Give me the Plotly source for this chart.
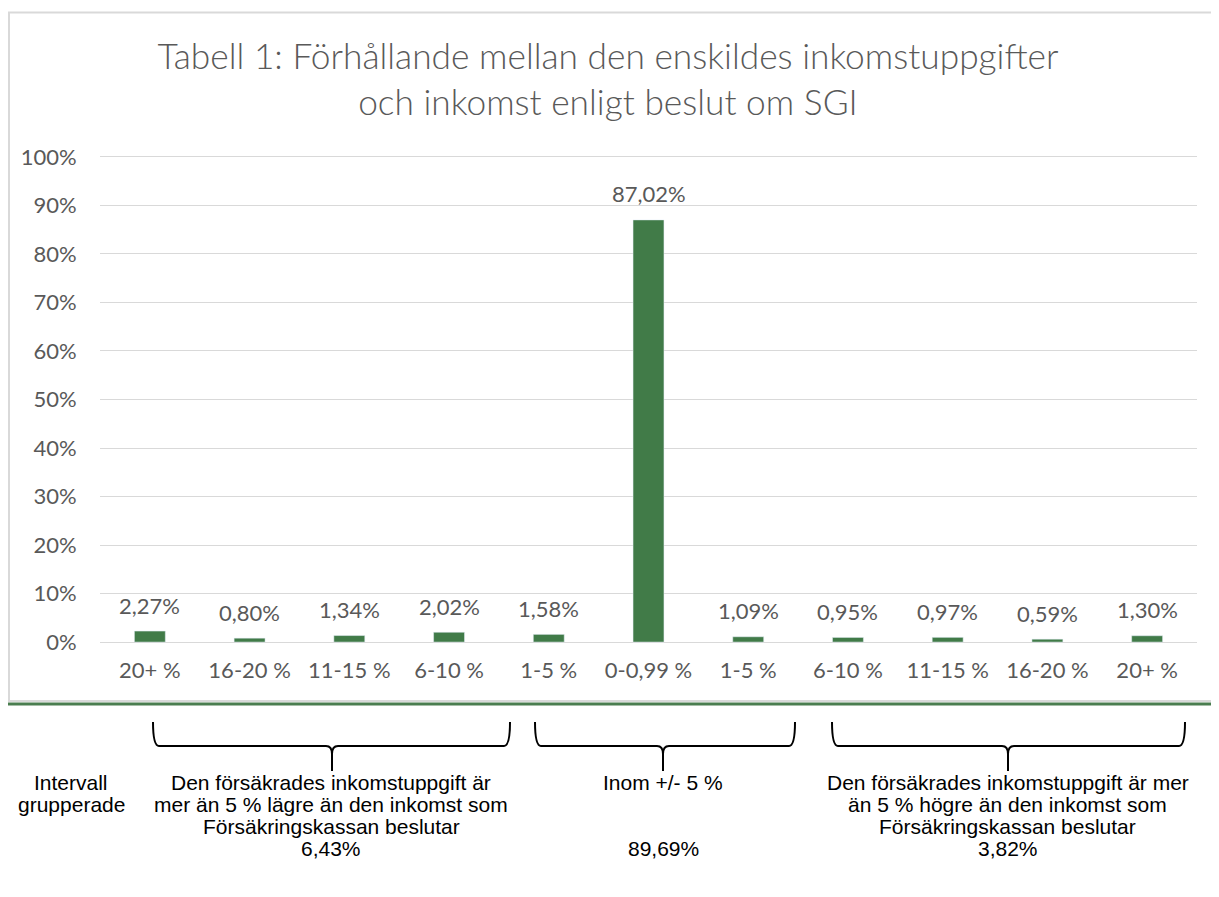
import plotly.graph_objects as go

# Categories (interval labels) and share of cases
categories = ["20+ %", "16-20 %", "11-15 %", "6-10 %", "1-5 %", "0-0,99 %",
              "1-5 %", "6-10 %", "11-15 %", "16-20 %", "20+ %"]
shares = [2.27, 0.80, 1.34, 2.02, 1.58, 87.02, 1.09, 0.95, 0.97, 0.59, 1.30]
share_labels = ["2,27%", "0,80%", "1,34%", "2,02%", "1,58%", "87,02%",
                "1,09%", "0,95%", "0,97%", "0,59%", "1,30%"]

y_ticks = [0, 10, 20, 30, 40, 50, 60, 70, 80, 90, 100]
y_ticktext = [f"{v}%" for v in y_ticks]

# Grouped totals shown under the chart
group_left = ["Den försäkrades inkomstuppgift är", "mer än 5 % lägre än den inkomst som",
              "Försäkringskassan beslutar", "6,43%"]
group_mid = ["Inom +/- 5 %", "", "", "89,69%"]
group_right = ["Den försäkrades inkomstuppgift är mer", "än 5 % högre än den inkomst som",
               "Försäkringskassan beslutar", "3,82%"]
group_name = ["Intervall", "grupperade"]

GREEN = "#417B48"
GREY = "#595959"

# page body adds an 8px margin, so work in screen pixels and shift
OFF = 8
W, H = 1219 - OFF, 897 - OFF
L, R, T, B = 100, 1197, 155, 644   # plot area in screen pixels


def px(x):
    return (x - L) / (R - L)


def py(y):
    return (B - y) / (B - T)


fig = go.Figure()
fig.add_trace(go.Bar(
    x=list(range(len(categories))),
    y=shares,
    width=0.31,
    marker_color=GREEN,
    hoverinfo="x+y",
))

# data labels above the bars
for i, (v, lab) in enumerate(zip(shares, share_labels)):
    fig.add_annotation(x=i, y=v, text=lab, showarrow=False,
                       yanchor="middle", yshift=26,
                       font=dict(family="Lato", size=22, color=GREY))

fig.update_layout(
    width=W, height=H,
    margin=dict(l=L - OFF, r=W - (R - OFF), t=T - OFF, b=H - (B - OFF)),
    paper_bgcolor="white",
    plot_bgcolor="white",
    showlegend=False,
    font=dict(family="Lato", color=GREY),
    title=dict(
        text="Tabell 1: Förhållande mellan den enskildes inkomstuppgifter<br>och inkomst enligt beslut om SGI",
        x=(608 - OFF) / W, xanchor="center",
        y=1 - (81 - OFF - 12) / H, yanchor="middle", yref="container",
        font=dict(family="Lato", size=35.3, color=GREY, weight=300),
    ),
    xaxis=dict(
        tickvals=list(range(len(categories))),
        ticktext=categories,
        range=[-0.5, len(categories) - 0.5],
        showgrid=False, zeroline=False, showline=False,
        tickfont=dict(family="Lato", size=22, color=GREY),
        ticks="outside", ticklen=7, tickcolor="white",
    ),
    yaxis=dict(
        range=[-0.4, 100.4],
        tickvals=y_ticks,
        ticktext=y_ticktext,
        gridcolor="#D9D9D9", gridwidth=1,
        zeroline=False, showline=False,
        tickfont=dict(family="Lato", size=22, color=GREY),
        ticks="outside", ticklen=18, tickcolor="white",
    ),
)

# chart frame and green rule under it
fig.add_shape(type="rect", xref="paper", yref="paper",
              x0=px(9), x1=px(1240), y0=py(701), y1=py(12.5),
              line=dict(color="#D9D9D9", width=2), layer="below")
fig.add_shape(type="line", xref="paper", yref="paper",
              x0=px(8), x1=px(1230), y0=py(704), y1=py(704),
              line=dict(color="#4A7D4F", width=3))


# curly braces under the chart
def brace(x0, x1, xm):
    top, mid, tip = py(722), py(746), py(771)
    r = 6 / (R - L)
    rv = 8 / (B - T)
    a, b, m = px(x0), px(x1), px(xm)
    return (f"M {a},{top} Q {a},{mid} {a + r},{mid} L {m - r},{mid} "
            f"Q {m},{mid} {m},{mid - rv} L {m},{tip} M {m},{mid - rv} "
            f"Q {m},{mid} {m + r},{mid} L {b - r},{mid} Q {b},{mid} {b},{top}")


for x0, x1, xm in [(153, 510, 332), (535, 795, 663), (832, 1185, 1008)]:
    fig.add_shape(type="path", xref="paper", yref="paper",
                  path=brace(x0, x1, xm),
                  line=dict(color="black", width=2))

# text blocks under the braces, one annotation per line (tight leading)
for xc, lines in [(71, group_name), (331, group_left), (663, group_mid), (1008, group_right)]:
    for i, line in enumerate(lines):
        if not line:
            continue
        fig.add_annotation(xref="paper", yref="paper", x=px(xc), y=py(782 + 22 * i),
                           text=line, showarrow=False,
                           xanchor="center", yanchor="middle",
                           font=dict(family="Liberation Sans", size=21, color="black"))

fig.write_html("out.html")
